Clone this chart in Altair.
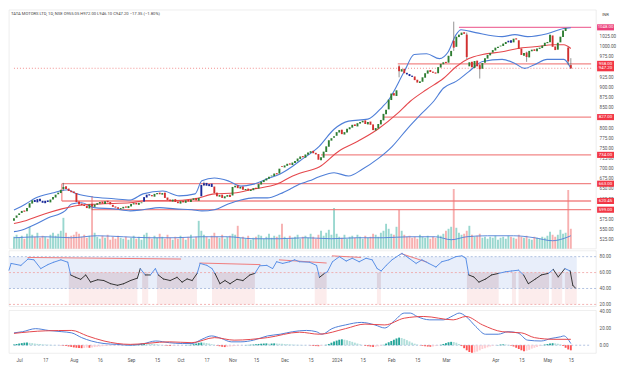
import altair as alt
import pandas as pd

# ---------------- data ----------------
start_idx = -2  # bar index of first candle (Jul 3 2023 = 0)

closes = [578, 585, 590, 596, 594, 603, 615, 622, 618, 625,
          620, 616, 621, 618, 624, 630, 636, 641, 648, 655,
          650, 645, 642, 640, 618, 612, 610, 608, 603, 612,
          607, 612, 615, 618, 614, 620, 617, 612, 606, 604,
          601, 603, 606, 604, 608, 613, 615, 612, 616, 617,
          630, 636, 634, 632, 638, 640, 637, 640, 628, 623,
          620, 624, 618, 615, 620, 617, 622, 619, 624, 627,
          622, 628, 660, 664, 658, 662, 655, 640, 632, 635,
          628, 632, 635, 630, 655, 658, 652, 655, 648, 650,
          646, 648, 652, 650, 662, 668, 672, 676, 680, 683,
          688, 686, 700, 704, 708, 712, 710, 715, 719, 725,
          730, 728, 735, 740, 743, 738, 735, 722, 728, 742,
          755, 770, 775, 780, 790, 795, 785, 790, 798, 802,
          808, 805, 812, 815, 818, 810, 815, 808, 795, 800,
          810, 820, 835, 845, 870, 885, 880, 893, 940, 945,
          935, 932, 928, 926, 918, 912, 915, 925, 935, 942,
          938, 936, 934, 950, 958, 962, 960, 978, 990, 998,
          1025, 1030, 1035, 1032, 975, 962, 950, 965, 952, 945,
          960, 972, 980, 985, 992, 998, 1000, 1003, 1008, 1012,
          1015, 1010, 1020, 1018, 995, 980, 985, 975, 990, 993,
          990, 996, 998, 1003, 1010, 1012, 1030, 1000, 992, 1010,
          1025, 1040, 1046, 964, 947]

opens = [572, 579, 586, 591, 597, 595, 604, 614, 623, 617,
         626, 621, 615, 622, 617, 624, 629, 637, 640, 650,
         657, 651, 646, 644, 640, 619, 614, 611, 609, 602,
         613, 606, 611, 614, 619, 613, 621, 618, 611, 607,
         605, 600, 602, 607, 603, 607, 612, 616, 611, 615,
         619, 629, 637, 635, 631, 637, 641, 636, 641, 629,
         624, 619, 625, 619, 614, 621, 616, 623, 618, 623,
         628, 621, 632, 659, 665, 657, 663, 656, 641, 631,
         636, 627, 631, 636, 634, 654, 659, 651, 656, 647,
         651, 645, 647, 653, 651, 661, 667, 671, 675, 681,
         682, 689, 688, 706, 703, 707, 713, 709, 714, 718,
         724, 731, 727, 734, 739, 744, 739, 736, 721, 727,
         741, 754, 769, 776, 781, 789, 796, 784, 789, 797,
         801, 809, 804, 811, 814, 819, 809, 816, 809, 794,
         799, 809, 819, 834, 846, 869, 886, 879, 952, 939,
         946, 936, 933, 929, 927, 919, 911, 914, 924, 934,
         943, 939, 937, 935, 949, 957, 963, 961, 977, 1015,
         1000, 1024, 1029, 1036, 1030, 952, 963, 948, 966, 955,
         946, 961, 971, 979, 986, 991, 997, 1001, 1002, 1007,
         1011, 1016, 1011, 1021, 1016, 996, 978, 986, 974, 989,
         994, 989, 995, 997, 1002, 1009, 1011, 1028, 1001, 993,
         1011, 1024, 1039, 998, 955]

volumes = [12, 14, 11, 13, 10, 15, 22, 14, 12, 16,
           11, 13, 12, 10, 14, 16, 13, 15, 18, 31,
           16, 12, 13, 14, 17, 15, 12, 14, 11, 13,
           53, 16, 12, 10, 13, 11, 14, 9, 12, 10,
           13, 11, 10, 12, 9, 11, 13, 10, 12, 9,
           14, 16, 12, 10, 13, 11, 15, 12, 10, 14,
           11, 9, 12, 10, 13, 11, 9, 12, 14, 10,
           12, 28, 18, 14, 12, 10, 13, 16, 12, 11,
           14, 10, 12, 13, 15, 14, 23, 11, 12, 10,
           13, 9, 11, 12, 14, 13, 10, 12, 15, 11,
           13, 12, 14, 25, 12, 10, 13, 11, 12, 14,
           10, 12, 13, 11, 15, 12, 10, 14, 18, 13,
           16, 19, 14, 41, 15, 12, 11, 14, 10, 12,
           13, 11, 14, 12, 10, 13, 11, 12, 15, 14,
           12, 16, 18, 25, 20, 15, 14, 22, 39, 18,
           14, 12, 13, 11, 12, 10, 14, 12, 11, 13,
           10, 12, 11, 14, 13, 15, 18, 20, 22, 60,
           21, 16, 14, 15, 18, 23, 14, 12, 13, 15,
           11, 12, 10, 12, 11, 13, 9, 11, 12, 10,
           13, 12, 11, 10, 14, 12, 11, 13, 10, 9,
           12, 11, 10, 12, 11, 13, 17, 14, 12, 14,
           19, 15, 16, 59, 20]

macd_hist = [1.0, 1.5, 2.0, 2.5, 3.0, 3.2, 2.8, 2.5, 2.0, 1.6,
             1.4, 1.0, 0.8, 0.6, 0.5, 0.4, 0.2, 0.0, -0.3, -0.6,
             -1.0, -1.5, -2.0, -2.6, -3.0, -3.2, -3.5, -3.2, -2.8, -3.0,
             -2.6, -2.2, -1.8, -1.5, -1.2, -1.0, -0.8, -0.6, -0.5, -0.4,
             -0.3, -0.2, -0.1, 0.1, 0.3, 0.5, 0.8, 1.0, 1.5, 2.0,
             2.4, 2.2, 2.0, 1.6, 1.4, 1.0, 0.6, 0.2, -0.3, -0.6,
             -0.8, -0.6, -0.5, -0.4, -0.2, 0.0, 0.2, 0.4, 0.6, 1.2,
             2.0, 2.8, 3.2, 3.0, 2.6, 2.0, 1.2, 0.5, -0.5, -1.2,
             -1.8, -2.2, -2.0, -1.6, -1.2, -0.8, -0.5, -0.3, -0.1, 0.2,
             0.4, 0.6, 0.8, 1.2, 1.5, 1.8, 2.0, 2.2, 1.8, 2.0,
             2.2, 2.0, 1.8, 1.6, 1.4, 1.2, 1.0, 0.8, 0.6, 0.5,
             0.4, 0.3, 0.2, 0.0, -0.4, -0.8, -1.0, -1.2, -0.8, -0.2,
             0.5, 1.5, 3.0, 4.5, 5.5, 6.5, 7.0, 6.5, 6.0, 5.0,
             4.0, 3.0, 2.0, 1.0, 0.0, -0.8, -1.2, -1.6, -2.0, -1.8,
             -1.4, -0.8, 0.5, 2.0, 3.5, 5.0, 6.5, 8.0, 9.0, 8.5,
             7.5, 6.0, 4.5, 3.0, 1.8, 0.8, -0.2, -0.8, -1.2, -1.6,
             -1.8, -1.5, -1.0, -0.4, 0.5, 1.5, 2.5, 3.5, 4.0, 3.8,
             3.0, 1.5, -1.0, -3.5, -6.0, -8.0, -9.0, -8.5, -7.5, -6.0,
             -4.5, -3.5, -2.5, -1.5, -0.8, -0.2, 0.4, 0.8, 1.0, 0.8,
             0.4, -0.5, -1.5, -3.0, -4.5, -6.0, -7.0, -6.5, -5.5, -4.0,
             -3.0, -2.0, -1.0, 0.2, 0.8, 1.4, 2.0, 2.4, 2.2, 1.8,
             1.0, -1.0, -3.0, -5.0, -6.0]

blue_bars = [6, 7, 8, 9, 10, 11, 48, 49, 50, 70, 71, 72, 73, 74, 149, 150, 151, 188, 189]

wick_i = [17, 28, 71, 146, 167, 172, 177, 195, 211, 212]
wick_lo = [646, 598, 657, 925, 990, 970, 922, 963, 955, 946]
wick_hi = [665, 614, 668, 955, 1062, 1035, 958, 988, 1000, 972]

upper_i = [-2, 2.5, 6.3, 12.7, 18.7, 21.3, 27.7, 36.4, 42.7, 47.6, 55.2, 61.5, 67.6, 70.2, 75,
           80.3, 85.2, 90.1, 95.4, 100.3, 105.1, 107.8, 115.3, 121, 126.6, 134, 139.7, 141.6,
           148, 151.8, 156.6, 161.5, 164.9, 167.9, 169.8, 175.4, 185.6, 190.5, 195.4, 202.9,
           209.3, 212]
upper_v = [598, 613, 628, 640, 648, 640, 631, 626, 623, 638, 645, 633, 638, 670, 677,
           670, 657, 662, 675, 687, 706, 719, 755, 797, 817, 822, 853, 866,
           939, 981, 983, 971, 988, 1030, 1042, 1035, 1025, 1030, 1025, 1032,
           1045, 1047]

lower_i = [-2, 0, 5.2, 11.2, 17.6, 20.2, 24, 28.8, 36.4, 42.7, 47.6, 54, 60, 66.4, 70.2, 75,
           80.3, 85.2, 90.1, 95.4, 100.3, 105.1, 107.8, 111.5, 115.3, 121, 126.6, 132, 137.8,
           143.4, 149, 154.7, 159.3, 163, 167.9, 172.8, 178.1, 185.6, 190.5, 194.2, 198,
           202.9, 209.3, 212]
lower_v = [545, 547, 560, 579, 596, 613, 616, 604, 601, 596, 599, 604, 601, 599, 596, 599,
           613, 623, 628, 628, 638, 653, 662, 670, 680, 690, 682, 699, 724,
           755, 797, 836, 866, 898, 915, 939, 964, 969, 959, 947, 956,
           969, 969, 947]

ma_i = [-2, 2.5, 10, 16.4, 21.3, 30, 42.7, 48.8, 57.8, 67.6, 75.1, 82.6, 90.1, 99.1, 105.1,
        107.8, 115.3, 122.8, 130.3, 137.8, 145.4, 150.3, 156.6, 163, 167.9, 172.8, 178.1,
        185.6, 191.6, 198, 205.5, 209.3, 212]
ma_v = [565, 572, 589, 601, 608, 613, 616, 621, 621, 626, 638, 640, 650, 662, 682,
        689, 704, 743, 768, 797, 836, 866, 895, 922, 951, 971, 981,
        988, 996, 1000, 1005, 1005, 996]

volma_i = [-2, 10, 20, 30, 40, 50, 60, 70, 80, 90, 100, 110, 120, 130, 140, 150, 160, 166,
           172, 180, 190, 198, 205, 209, 212]
volma_v = [11, 12, 11, 13, 12, 11, 11, 12, 12, 10, 10, 11, 10, 11, 11, 12, 12, 9,
           12, 13, 13, 11, 8, 10, 13]

rsi_i = [-2, -1.2, 2.5, 5.2, 7.4, 10, 12.7, 14.9, 17.6, 20.2, 21.3, 23.2, 25.1, 27, 28.8,
         31.5, 33.8, 36.4, 39, 41.3, 43.9, 46.5, 47.6, 49.5, 51.4, 53.3, 54.4, 56.3, 58.9,
         61.5, 63.4, 65.3, 67.2, 69.1, 70.2, 72.8, 74.7, 75.8, 77.7, 79.6, 81.5, 84.1, 86.4,
         89, 90.9, 92.7, 95.4, 97.6, 99.1, 101.4, 104, 105.9, 107.8, 111.5, 114.2, 115.3,
         117.2, 118.3, 120.2, 122.8, 125.4, 127.7, 130.3, 132.9, 135.2, 137.1, 138.6, 140.5,
         142.7, 145.4, 146.5, 149.1, 151.8, 154, 156.6, 159.3, 161.5, 164.2, 166.8, 169.1,
         170.6, 171.7, 173.6, 175.5, 178.1, 180.3, 183, 185.6, 187.9, 190.5, 192.4, 194.2,
         196.9, 199.1, 201.8, 203.6, 205.5, 208, 210, 211, 212]
rsi_v = [63, 71.5, 69, 77, 76, 65, 70, 73, 76, 73, 57, 54, 51.5, 57, 48,
         51, 50, 46, 44, 46, 50, 53, 65, 57, 57, 65, 57, 52, 50,
         54, 48, 52, 50, 59, 71.5, 69, 65, 59, 46, 50, 46, 51.5, 50,
         57, 59, 68.5, 69, 65, 73.6, 71.5, 73.6, 76, 73.6, 73, 69, 54,
         59, 61, 73.6, 80, 74.5, 78, 73.6, 78, 76, 65, 62, 69,
         76, 82, 84, 78, 71.5, 76, 71.5, 67, 73.6, 76, 80, 81,
         78, 57, 54.5, 48, 52, 57, 59, 61, 62, 63, 57, 46,
         52, 57, 59, 64, 54.5, 65, 62, 44, 40.5]

div_x1 = [5, 70, 100, 120, 146]
div_y1 = [79, 72, 76, 81, 84]
div_x2 = [63, 93, 118, 131, 156]
div_y2 = [77, 70, 72, 79, 73]

bear_start = [20.6, 48.3, 53.9, 74.7, 113.5, 137, 171, 188, 190.5, 203, 208]
bear_end = [46.5, 50.6, 69, 90.9, 118, 138.5, 183, 189.5, 202, 207, 212.5]

macd_i = [-2, 1.3, 6.3, 11.2, 16.4, 20.2, 24, 27.7, 32.6, 37.5, 42.7, 47.6, 52.5, 57.7, 62.7,
          66.4, 70.2, 73.9, 77.7, 81.5, 85.2, 90.1, 95.4, 100.3, 105.1, 110.4, 114.2, 116.4,
          120.2, 125.4, 131.5, 136.7, 140.5, 144.2, 148, 150.3, 152.9, 157.8, 163, 166.8,
          169.1, 171.7, 175.5, 179.2, 184.1, 187.9, 191.6, 195.4, 200.6, 204.4, 208.1, 209.3,
          212]
macd_v = [14.6, 16, 19.6, 17.5, 16, 14.6, 9, 5, 2, 1, 0, 1.7, 5, 3, 2,
          2, 7, 11, 8, 4, 4, 6, 11, 13, 16, 17.5, 16, 13,
          19.6, 24, 27, 24, 20.4, 29, 38, 38, 34, 30, 30, 35,
          38, 34, 22, 13, 13, 16, 14.6, 6, 5, 8, 10, 11,
          2]
sig_i = [-2, 10, 20.2, 26.2, 32.6, 42.7, 57.7, 66.4, 75.1, 82.6, 95.4, 107.8, 115.3, 125.4,
         132.9, 140.5, 148, 155.5, 166.8, 171.7, 178.1, 185.6, 193.1, 198, 205.5, 212]
sig_v = [14, 17, 17.5, 11, 5, 1, 4, 3, 9, 6, 9, 15.4, 13, 19.6,
         25, 24, 32, 34, 30, 34, 24, 16, 14.6, 9, 7, 7]

level_price = [1048.0, 958.0, 827.0, 734.0, 663.0, 620.45, 599.0]
level_start = [169, 145.5, 140, 116, 16.4, 16.4, 28]
level_label = ["1048.00", "958.00", "827.00", "734.00", "663.00", "620.45", "599.00"]
level_kind = ["top", "lvl", "lvl", "lvl", "lvl", "lvl", "lvl"]
last_price = 947.20

tick_vals = [0, 10, 21, 31, 43, 53, 62, 72, 82, 91, 102, 112, 122, 132, 143, 153, 164, 183, 193, 203, 212]
tick_text = ["Jul", "17", "Aug", "16", "Sep", "15", "Oct", "17", "Nov", "15", "Dec", "15",
             "2024", "15", "Feb", "15", "Mar", "Apr", "15", "May", "15"]

header = "TATA MOTORS LTD, 1D, NSE  O955.05 H972.00 L946.10 C947.20 \u221217.35 (\u22121.80%)"

# ---------------- layout ----------------
W = 590
H_P, H_R, H_M = 240, 56, 43
XMIN, XMAX = -2, 219.8
FONT = "Roboto"
AX_COL = "#555555"
BLUE = "#4f7fd8"
RED_LINE = "#e5484d"

xs = alt.Scale(domain=[XMIN, XMAX], nice=False, zero=False)


def X(f, axis=None):
    return alt.X(f, type="quantitative", scale=xs, axis=axis)


def raw(f):
    return alt.Color(f, type="nominal", scale=None, legend=None)


def right_axis(vals):
    return alt.Axis(orient="right", values=vals, format=".2f", labelFontSize=4.6,
                    labelColor=AX_COL, labelFont=FONT, domain=False, ticks=False, grid=False,
                    labelPadding=3, labelOverlap=False, labelBound=False, title=None)


idx = list(range(start_idx, start_idx + len(closes)))
bars = pd.DataFrame({"i": idx, "o": opens, "c": closes, "v": volumes, "hist": macd_hist})
up = [c >= o for o, c in zip(opens, closes)]
bars["ccol"] = ["#1a2a9a" if i in blue_bars else ("#2e7d32" if u else "#d32f2f") for i, u in zip(idx, up)]
bars["vcol"] = ["#7fcdc3" if u else "#f59c9c" for u in up]
hcol = []
prev = 0.0
for h in macd_hist:
    if h >= 0:
        hcol.append("#26a69a" if h >= prev else "#b2dfdb")
    else:
        hcol.append("#ff5252" if h <= prev else "#ffcdd2")
    prev = h
bars["hcol"] = hcol

# ---------------- price pane ----------------
py = alt.Scale(domain=[503, 1091], nice=False, zero=False)
PAX = right_axis(list(range(525, 1050, 25)))


def PY(f):
    return alt.Y(f, type="quantitative", scale=py, axis=PAX)


lv = pd.DataFrame({"s": level_start, "e": [XMAX] * len(level_price), "p": level_price,
                   "lab": level_label,
                   "col": ["#ec5c8f" if k == "top" else "#ee7272" for k in level_kind],
                   "tcol": ["#ec407a" if k == "top" else "#f23645" for k in level_kind]})
lvl_rules = alt.Chart(lv).mark_rule(strokeWidth=1.3, opacity=0.85).encode(
    x=X("s"), x2="e", y=PY("p"), color=raw("col"))

box = pd.DataFrame({"i": [16.4], "a": [620.45], "b": [663.0]})
box_rule = alt.Chart(box).mark_rule(strokeWidth=1.2, color="#ee7272", opacity=0.85).encode(
    x=X("i"), y=PY("a"), y2="b")

bands = pd.concat([
    pd.DataFrame({"i": upper_i, "v": upper_v, "s": "upper", "col": BLUE}),
    pd.DataFrame({"i": lower_i, "v": lower_v, "s": "lower", "col": BLUE}),
    pd.DataFrame({"i": ma_i, "v": ma_v, "s": "ma", "col": RED_LINE}),
])
band_lines = alt.Chart(bands).mark_line(strokeWidth=1.1, interpolate="monotone").encode(
    x=X("i"), y=PY("v"), color=raw("col"), detail="s:N")

wk = pd.DataFrame({"i": wick_i, "lo": wick_lo, "hi": wick_hi})
wicks = alt.Chart(wk).mark_rule(strokeWidth=0.7, color="#666666").encode(
    x=X("i"), y=PY("lo"), y2="hi")

bodies = alt.Chart(bars).mark_bar(size=1.9).encode(
    x=X("i"), y=PY("o"), y2="c", color=raw("ccol"))

last_df = pd.DataFrame({"s": [XMIN], "e": [XMAX], "p": [last_price]})
last_rule = alt.Chart(last_df).mark_rule(strokeWidth=0.8, strokeDash=[1, 2], color="#ee7272").encode(
    x=X("s"), x2="e", y=PY("p"))

tags = pd.DataFrame({"p": level_price + [last_price],
                     "lab": level_label + ["947.20"],
                     "tcol": list(lv["tcol"]) + ["#f23645"]})
TAG = "M-1,-0.36L1,-0.36L1,0.36L-1,0.36Z"
tag_box = alt.Chart(tags).mark_point(shape=TAG, size=289, filled=True, opacity=1).encode(
    x=alt.value(W + 9.5), y=PY("p"), color=raw("tcol"))
tag_txt = alt.Chart(tags).mark_text(fontSize=4.4, font=FONT, color="white").encode(
    x=alt.value(W + 9.5), y=PY("p"), text="lab:N")

head = alt.Chart(pd.DataFrame({"t": [header]})).mark_text(
    fontSize=4.2, font=FONT, color="#444444", align="left", baseline="top").encode(
    x=alt.value(2), y=alt.value(2), text="t:N")
inr = alt.Chart(pd.DataFrame({"t": ["INR"]})).mark_text(
    fontSize=4.2, font=FONT, color="#444444", align="center", baseline="top").encode(
    x=alt.value(W + 9.5), y=alt.value(3), text="t:N")

price_layer = alt.layer(lvl_rules, box_rule, last_rule, band_lines, wicks, bodies,
                        tag_box, tag_txt, head, inr)

vy = alt.Scale(domain=[0, 240], nice=False, zero=True)
vol_bars = alt.Chart(bars).mark_bar(size=1.9, opacity=0.8).encode(
    x=X("i"), y=alt.Y("v:Q", scale=vy, axis=None), color=raw("vcol"))
volma = alt.Chart(pd.DataFrame({"i": volma_i, "v": volma_v})).mark_line(
    strokeWidth=0.9, color=BLUE, interpolate="monotone").encode(
    x=X("i"), y=alt.Y("v:Q", scale=vy, axis=None))
vol_layer = alt.layer(vol_bars, volma)

price_panel = alt.layer(vol_layer, price_layer).resolve_scale(y="independent").properties(
    width=W, height=H_P)

# ---------------- RSI pane ----------------
ry = alt.Scale(domain=[17.5, 87.5], nice=False, zero=False)
RAX = right_axis([20, 40, 60, 80])


def RY(f):
    return alt.Y(f, type="quantitative", scale=ry, axis=RAX)


bull_band = alt.Chart(pd.DataFrame({"s": [start_idx], "e": [212.5], "a": [40], "b": [80]})).mark_rect(
    color="#e8eefa").encode(x=X("s"), x2="e", y=RY("a"), y2="b")
bz = pd.DataFrame({"s": bear_start, "e": bear_end, "a": [40] * len(bear_start),
                   "b": [60] * len(bear_start), "c": [20] * len(bear_start)})
bear_mid = alt.Chart(bz).mark_rect(color="#dcd3df").encode(x=X("s"), x2="e", y=RY("a"), y2="b")
bear_low = alt.Chart(bz).mark_rect(color="#fcecec").encode(x=X("s"), x2="e", y=RY("c"), y2="a")

lv_r = pd.DataFrame({"s": [XMIN] * 4, "e": [XMAX] * 4, "v": [80, 60, 40, 20],
                     "col": ["#9fb3d9", "#f0a0a0", "#9fb3d9", "#f0a0a0"]})
rsi_levels = alt.Chart(lv_r).mark_rule(strokeWidth=0.8, strokeDash=[2, 2]).encode(
    x=X("s"), x2="e", y=RY("v"), color=raw("col"))

seg = pd.DataFrame({"x1": rsi_i[:-1], "x2": rsi_i[1:], "y1": rsi_v[:-1], "y2": rsi_v[1:]})
seg["col"] = ["#5a8fe6" if (a + b) / 2 >= 60 else "#333333" for a, b in zip(seg["y1"], seg["y2"])]
rsi_line = alt.Chart(seg).mark_rule(strokeWidth=1.0, strokeCap="round").encode(
    x=X("x1"), x2="x2", y=RY("y1"), y2="y2", color=raw("col"))

dv = pd.DataFrame({"x1": div_x1, "y1": div_y1, "x2": div_x2, "y2": div_y2})
div_lines = alt.Chart(dv).mark_rule(strokeWidth=1.0, color="#f07c7c").encode(
    x=X("x1"), x2="x2", y=RY("y1"), y2="y2")

rsi_panel = alt.layer(bull_band, bear_mid, bear_low, rsi_levels, div_lines, rsi_line).properties(
    width=W, height=H_R)

# ---------------- MACD pane ----------------
my = alt.Scale(domain=[-9.4, 41.2], nice=False, zero=False)
label_expr = " : ".join(f"datum.value == {v} ? '{t}'" for v, t in zip(tick_vals, tick_text)) + " : ''"
XAX = alt.Axis(values=tick_vals, labelExpr=label_expr, labelFontSize=4.6, labelColor=AX_COL,
               labelFont=FONT, domain=False, ticks=False, grid=False, labelPadding=4,
               labelOverlap=False, labelBound=False, labelFlush=False, title=None)
MAX_ = right_axis([0, 20, 40])


def MX(f):
    return X(f, axis=XAX)


def MY(f):
    return alt.Y(f, type="quantitative", scale=my, axis=MAX_)


zero = alt.Chart(pd.DataFrame({"s": [XMIN], "e": [XMAX], "v": [0]})).mark_rule(
    strokeWidth=0.8, strokeDash=[2, 2], color="#9fb3d9").encode(x=MX("s"), x2="e", y=MY("v"))
hist_bars = alt.Chart(bars).mark_bar(size=1.9).encode(
    x=MX("i"), y=MY("hist"), y2=alt.Y2(datum=0), color=raw("hcol"))
ml = pd.concat([pd.DataFrame({"i": macd_i, "v": macd_v, "s": "macd", "col": BLUE}),
                pd.DataFrame({"i": sig_i, "v": sig_v, "s": "signal", "col": RED_LINE})])
macd_lines = alt.Chart(ml).mark_line(strokeWidth=1.0, interpolate="monotone").encode(
    x=MX("i"), y=MY("v"), detail="s:N", color=raw("col"))

macd_panel = alt.layer(zero, hist_bars, macd_lines).properties(width=W, height=H_M)

chart = alt.vconcat(price_panel, rsi_panel, macd_panel, spacing=0).properties(
    padding={"left": 0, "top": 0, "right": 0, "bottom": 0}, background="white"
).configure_view(stroke="#e3e3e3", strokeWidth=0.6)

chart.save("out.html", embed_options={"renderer": "svg", "actions": False})
